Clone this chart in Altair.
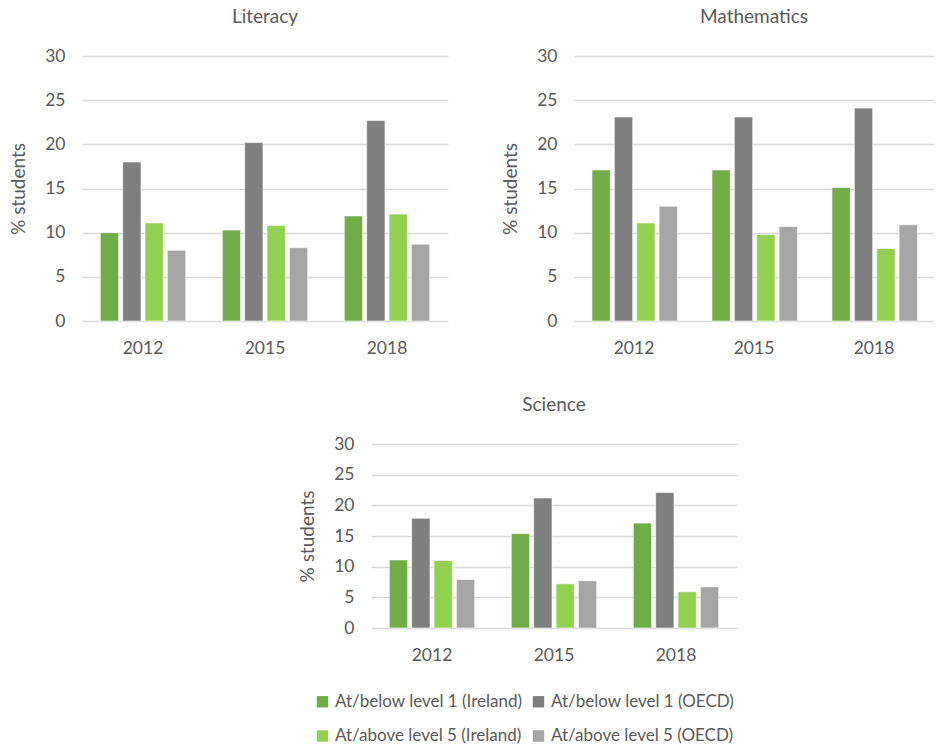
import altair as alt
import pandas as pd

# Share of students at the low and high ends of PISA proficiency, Ireland vs OECD
years = ["2012", "2015", "2018"]
series = [
    "At/below level 1 (Ireland)",
    "At/below level 1 (OECD)",
    "At/above level 5 (Ireland)",
    "At/above level 5 (OECD)",
]
colors = ["#70AD47", "#7F7F7F", "#92D050", "#A5A5A5"]

# one list per series, values in year order
literacy_below_ie = [10.0, 10.3, 11.9]
literacy_below_oecd = [18.0, 20.2, 22.7]
literacy_above_ie = [11.1, 10.8, 12.1]
literacy_above_oecd = [8.0, 8.3, 8.7]

maths_below_ie = [17.1, 17.1, 15.1]
maths_below_oecd = [23.1, 23.1, 24.1]
maths_above_ie = [11.1, 9.8, 8.2]
maths_above_oecd = [13.0, 10.7, 10.9]

science_below_ie = [11.1, 15.4, 17.1]
science_below_oecd = [17.9, 21.2, 22.1]
science_above_ie = [11.0, 7.2, 5.9]
science_above_oecd = [7.9, 7.7, 6.7]

subjects = {
    "Literacy": [literacy_below_ie, literacy_below_oecd, literacy_above_ie, literacy_above_oecd],
    "Mathematics": [maths_below_ie, maths_below_oecd, maths_above_ie, maths_above_oecd],
    "Science": [science_below_ie, science_below_oecd, science_above_ie, science_above_oecd],
}

rows = []
for subject, values in subjects.items():
    for name, vals in zip(series, values):
        for year, v in zip(years, vals):
            rows.append({"subject": subject, "year": year, "series": name, "value": v})
df = pd.DataFrame(rows)

FONT = "Lato"
TEXT = "#595959"


def panel(subject, width, height):
    return (
        alt.Chart(df[df["subject"] == subject])
        .mark_bar(stroke="white", strokeWidth=1, strokeOpacity=0.6)
        .encode(
            x=alt.X("year:N", sort=years, title=None,
                    scale=alt.Scale(paddingInner=0.3, paddingOuter=0.15),
                    axis=alt.Axis(labelAngle=0, labelPadding=18, grid=False)),
            xOffset=alt.XOffset("series:N", sort=series,
                                scale=alt.Scale(paddingInner=0.18, paddingOuter=0)),
            y=alt.Y("value:Q", title="% students",
                    scale=alt.Scale(domain=[0, 30], nice=False),
                    axis=alt.Axis(values=[0, 5, 10, 15, 20, 25, 30], labelPadding=17,
                                  titlePadding=16, titleFontSize=19, titleColor=TEXT,
                                  titleFont=FONT, titleFontWeight="normal")),
            color=alt.Color("series:N", sort=series,
                            scale=alt.Scale(domain=series, range=colors),
                            legend=alt.Legend(title=None)),
        )
        .properties(width=width, height=height,
                    title=alt.TitleParams(subject, fontSize=19, font=FONT, color=TEXT,
                                          fontWeight="normal", offset=20))
    )


literacy = panel("Literacy", 366, 265)
maths = panel("Mathematics", 360, 265)
science = panel("Science", 366, 184)

# empty chart that shifts the Science panel towards the middle of the page
spacer = (
    alt.Chart(pd.DataFrame({"a": [0]}))
    .mark_point(opacity=0)
    .properties(width=216, height=1)
)

top = alt.hconcat(literacy, maths, spacing=53)
bottom = alt.hconcat(spacer, science, spacing=0)

chart = (
    alt.vconcat(top, bottom, spacing=39)
    .properties(padding={"left": 9, "top": 8, "right": 0, "bottom": 0})
    .configure_view(stroke=None)
    .configure_axis(labelFont=FONT, labelFontSize=17.5, labelColor=TEXT,
                    domain=False, ticks=False, gridColor="#D9D9D9", gridWidth=1.5)
    .configure_legend(orient="none", legendX=232, legendY=637, direction="horizontal",
                      columns=2, columnPadding=7, rowPadding=16.5, symbolType="square",
                      symbolSize=130, symbolStrokeWidth=0, labelFont=FONT,
                      labelFontSize=17, labelColor=TEXT, labelOffset=4, labelLimit=0)
)

chart.save("out.html", embed_options={"renderer": "svg", "actions": False})
